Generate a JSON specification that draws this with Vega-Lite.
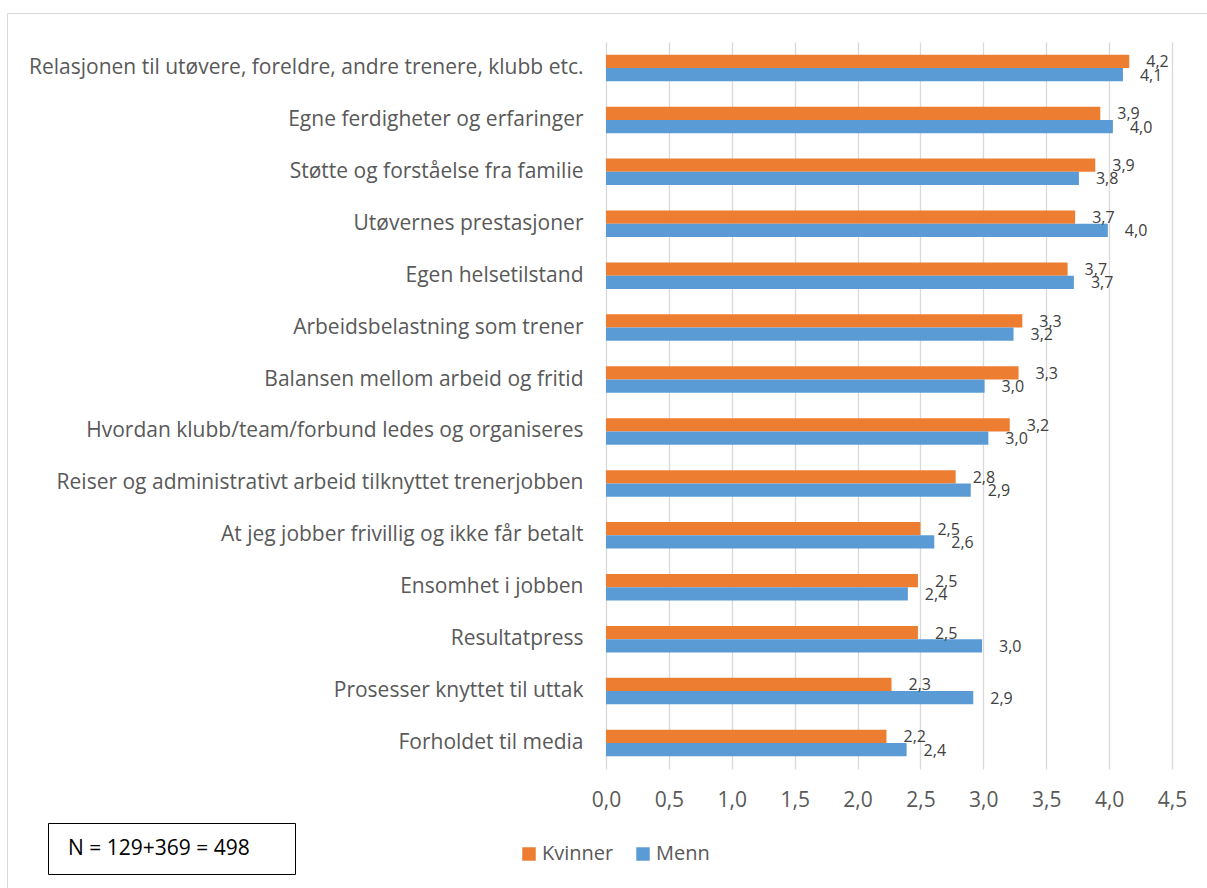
{
  "$schema": "https://vega.github.io/schema/vega-lite/v6.json",
  "width": 566,
  "height": 727,
  "autosize": {"type": "none"},
  "padding": {"left": 606, "top": 42, "right": 35, "bottom": 119},
  "background": "white",
  "config": {
    "locale": {"number": {"decimal": ",", "thousands": " ", "grouping": [3], "currency": ["", ""]}},
    "font": "Open Sans",
    "view": {"stroke": null}
  },
  "datasets": {
    "main": [
      {"kategori": "Relasjonen til utøvere, foreldre, andre trenere, klubb etc.", "kjonn": "Kvinner", "verdi": 4.16},
      {"kategori": "Relasjonen til utøvere, foreldre, andre trenere, klubb etc.", "kjonn": "Menn", "verdi": 4.11},
      {"kategori": "Egne ferdigheter og erfaringer", "kjonn": "Kvinner", "verdi": 3.93},
      {"kategori": "Egne ferdigheter og erfaringer", "kjonn": "Menn", "verdi": 4.03},
      {"kategori": "Støtte og forståelse fra familie", "kjonn": "Kvinner", "verdi": 3.89},
      {"kategori": "Støtte og forståelse fra familie", "kjonn": "Menn", "verdi": 3.76},
      {"kategori": "Utøvernes prestasjoner", "kjonn": "Kvinner", "verdi": 3.73},
      {"kategori": "Utøvernes prestasjoner", "kjonn": "Menn", "verdi": 3.99},
      {"kategori": "Egen helsetilstand", "kjonn": "Kvinner", "verdi": 3.67},
      {"kategori": "Egen helsetilstand", "kjonn": "Menn", "verdi": 3.72},
      {"kategori": "Arbeidsbelastning som trener", "kjonn": "Kvinner", "verdi": 3.31},
      {"kategori": "Arbeidsbelastning som trener", "kjonn": "Menn", "verdi": 3.24},
      {"kategori": "Balansen mellom arbeid og fritid", "kjonn": "Kvinner", "verdi": 3.28},
      {"kategori": "Balansen mellom arbeid og fritid", "kjonn": "Menn", "verdi": 3.01},
      {"kategori": "Hvordan klubb/team/forbund ledes og organiseres", "kjonn": "Kvinner", "verdi": 3.21},
      {"kategori": "Hvordan klubb/team/forbund ledes og organiseres", "kjonn": "Menn", "verdi": 3.04},
      {"kategori": "Reiser og administrativt arbeid tilknyttet trenerjobben", "kjonn": "Kvinner", "verdi": 2.78},
      {"kategori": "Reiser og administrativt arbeid tilknyttet trenerjobben", "kjonn": "Menn", "verdi": 2.9},
      {"kategori": "At jeg jobber frivillig og ikke får betalt", "kjonn": "Kvinner", "verdi": 2.5},
      {"kategori": "At jeg jobber frivillig og ikke får betalt", "kjonn": "Menn", "verdi": 2.61},
      {"kategori": "Ensomhet i jobben", "kjonn": "Kvinner", "verdi": 2.48},
      {"kategori": "Ensomhet i jobben", "kjonn": "Menn", "verdi": 2.4},
      {"kategori": "Resultatpress", "kjonn": "Kvinner", "verdi": 2.48},
      {"kategori": "Resultatpress", "kjonn": "Menn", "verdi": 2.99},
      {"kategori": "Prosesser knyttet til uttak", "kjonn": "Kvinner", "verdi": 2.27},
      {"kategori": "Prosesser knyttet til uttak", "kjonn": "Menn", "verdi": 2.92},
      {"kategori": "Forholdet til media", "kjonn": "Kvinner", "verdi": 2.23},
      {"kategori": "Forholdet til media", "kjonn": "Menn", "verdi": 2.39}
    ],
    "note": [
      {"note": "N = 129+369 = 498"}
    ],
    "frame": [
      {"ramme": "ramme"}
    ]
  },
  "layer": [
    {
      "data": {"name": "main"},
      "mark": {"type": "bar"},
      "encoding": {
        "y": {
          "field": "kategori", "type": "nominal", "sort": null,
          "scale": {"paddingInner": 0.49, "paddingOuter": 0.245},
          "axis": {"title": null, "ticks": false, "domain": false, "labelPadding": 23, "labelFontSize": 21, "labelColor": "#595959", "labelLimit": 700}
        },
        "x": {
          "field": "verdi", "type": "quantitative",
          "scale": {"domain": [0, 4.5], "nice": false},
          "axis": {"title": null, "values": [0, 0.5, 1, 1.5, 2, 2.5, 3, 3.5, 4, 4.5], "format": ".1f", "ticks": false, "domain": false, "labelFlush": false, "labelPadding": 20, "labelFontSize": 21, "labelColor": "#595959", "gridColor": "#d9d9d9", "gridWidth": 1.3}
        },
        "yOffset": {"field": "kjonn", "type": "nominal", "sort": ["Kvinner", "Menn"], "scale": {"paddingInner": 0, "paddingOuter": 0}},
        "color": {
          "field": "kjonn", "type": "nominal",
          "scale": {"domain": ["Kvinner", "Menn"], "range": ["#ED7D31", "#5B9BD5"]},
          "legend": {"title": null, "orient": "none", "direction": "horizontal", "legendX": -87, "legendY": 802, "symbolType": "square", "symbolSize": 182, "symbolStrokeWidth": 0, "labelFontSize": 20, "labelColor": "#595959", "labelOffset": 3, "columnPadding": 19, "padding": 0}
        }
      }
    },
    {
      "data": {"name": "main"},
      "mark": {"type": "text", "align": "left", "baseline": "middle", "dx": 17, "dy": 1, "fontSize": 16, "color": "#404040"},
      "encoding": {
        "y": {"field": "kategori", "type": "nominal", "sort": null},
        "x": {"field": "verdi", "type": "quantitative"},
        "yOffset": {"field": "kjonn", "type": "nominal", "sort": ["Kvinner", "Menn"]},
        "text": {"field": "verdi", "type": "quantitative", "format": ".1f"}
      }
    },
    {
      "data": {"name": "note"},
      "mark": {"type": "point", "opacity": 0},
      "encoding": {
        "shape": {
          "field": "note", "type": "nominal",
          "legend": {"title": ".", "titleOrient": "right", "titleFontSize": 10, "titleOpacity": 0, "titlePadding": 27, "orient": "none", "legendX": -558, "legendY": 781, "strokeColor": "#000000", "padding": 15, "symbolSize": 1, "symbolOpacity": 0, "symbolStrokeWidth": 0, "labelOffset": -16, "labelFontSize": 21, "labelColor": "#000000", "labelLimit": 500}
        }
      }
    },
    {
      "data": {"name": "frame"},
      "mark": {"type": "point", "opacity": 0},
      "encoding": {
        "fill": {
          "field": "ramme", "type": "nominal",
          "scale": {"range": ["#ffffff"]},
          "legend": {"title": null, "orient": "none", "legendX": -599, "legendY": -29, "strokeColor": "#d9d9d9", "padding": 620, "symbolSize": 1, "symbolOpacity": 0, "symbolStrokeWidth": 0, "labelExpr": "''", "labelOpacity": 0}
        }
      }
    }
  ]
}
